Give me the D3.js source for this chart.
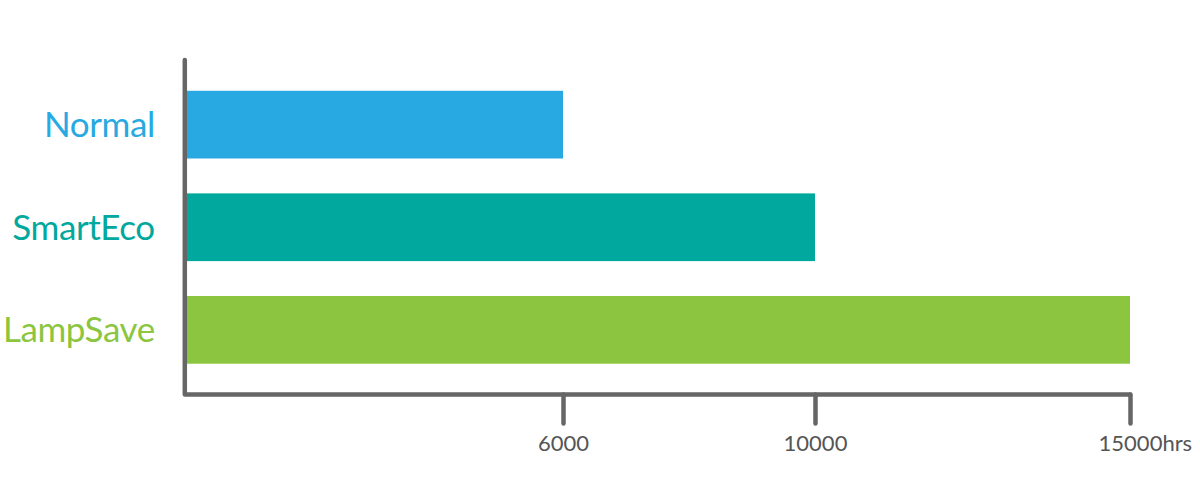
<!DOCTYPE html>
<html>
<head>
<meta charset="utf-8">
<script src="https://cdn.jsdelivr.net/npm/d3@7"></script>
<style>
  html, body { margin: 0; padding: 0; background: #ffffff; }
  svg { display: block; }
</style>
</head>
<body>
<svg id="chart" width="1200" height="500"></svg>
<script>
// ---- data ----
const categories = ["Normal", "SmartEco", "LampSave"];
const hours = [6000, 10000, 15000];
const tickValues = [6000, 10000, 15000];
const unitSuffix = "hrs";

// ---- palette ----
const palette = ["#29a9e1", "#00a89d", "#8cc540"];

(function () {
const svg = d3.select("#chart");
const axisX = 184.8, plotRight = 1130, plotTop = 60, axisY = 394.5;

const x = d3.scaleLinear().domain([0, 15000]).range([185, plotRight]);
const y = d3.scaleBand().domain(categories).range([plotTop, axisY]).paddingInner(0.34).paddingOuter(0.3);
const color = d3.scaleOrdinal().domain(categories).range(palette);

const data = categories.map((c, i) => ({ cat: c, v: hours[i] }));

// bars
svg.append("g").selectAll("rect")
  .data(data)
  .join("rect")
  .attr("x", x(0))
  .attr("y", d => y(d.cat))
  .attr("width", d => x(d.v) - x(0))
  .attr("height", y.bandwidth())
  .attr("fill", d => color(d.cat));

const axisColor = "#666666";
const fontFam = "Lato, 'Open Sans', sans-serif";

// y axis (category labels)
const yAxis = svg.append("g")
  .attr("transform", `translate(${axisX},0)`)
  .call(d3.axisLeft(y).tickSize(0).tickSizeOuter(0).tickPadding(30));
yAxis.select(".domain").remove();
yAxis.selectAll(".tick text")
  .attr("font-family", fontFam)
  .attr("font-size", 35)
  .attr("letter-spacing", "-0.4px")
  .attr("dy", "0.36em")
  .attr("fill", d => color(d));

// x axis
const xAxis = svg.append("g")
  .attr("transform", `translate(0,${axisY})`)
  .call(d3.axisBottom(x).tickValues(tickValues).tickSize(29).tickSizeOuter(0).tickPadding(12).tickFormat(d3.format("d")));
xAxis.select(".domain").remove();
xAxis.selectAll(".tick line")
  .attr("stroke", axisColor)
  .attr("stroke-width", 4.5)
  .attr("stroke-linecap", "round");
xAxis.selectAll(".tick text")
  .attr("font-family", fontFam)
  .attr("font-size", 22)
  .attr("fill", "#555555");

// L-shaped axis frame
svg.append("path")
  .attr("d", d3.line()([[axisX, plotTop], [axisX, axisY], [x(15000), axisY]]))
  .attr("fill", "none")
  .attr("stroke", axisColor)
  .attr("stroke-width", 4.5)
  .attr("stroke-linecap", "round")
  .attr("stroke-linejoin", "round");

// unit suffix on last tick
const lastTick = xAxis.selectAll(".tick").filter(d => d === tickValues[tickValues.length - 1]);
const lastText = lastTick.select("text");
const w = lastText.node().getComputedTextLength();
lastTick.append("text")
  .attr("x", w / 2)
  .attr("y", lastText.attr("y"))
  .attr("dy", lastText.attr("dy"))
  .attr("text-anchor", "start")
  .attr("font-family", fontFam)
  .attr("font-size", 22)
  .attr("fill", "#555555")
  .text(unitSuffix);
})();
</script>
</body>
</html>
